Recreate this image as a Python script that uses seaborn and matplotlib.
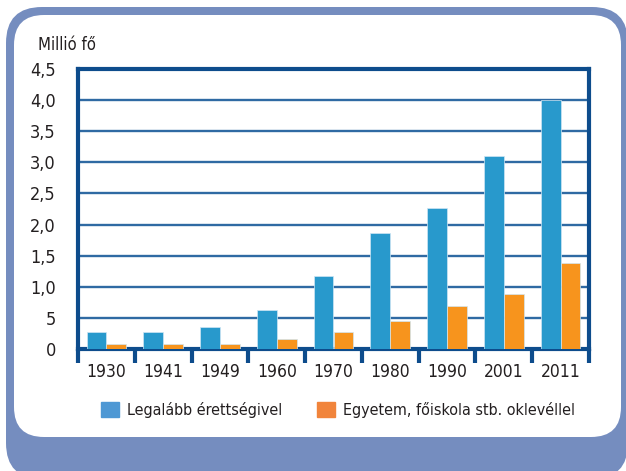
import numpy as np
import pandas as pd
import matplotlib
matplotlib.use("Agg")
import matplotlib.pyplot as plt
import matplotlib.patches as mpatches
import seaborn as sns

# data (millions of people)
years = ["1930", "1941", "1949", "1960", "1970", "1980", "1990", "2001", "2011"]
erettsegi = [0.28, 0.27, 0.36, 0.62, 1.17, 1.86, 2.27, 3.10, 4.00]
diploma = [0.08, 0.08, 0.08, 0.16, 0.27, 0.45, 0.69, 0.89, 1.38]
series_names = ["Legalább érettségivel", "Egyetem, főiskola stb. oklevéllel"]
y_ticks = [0, 0.5, 1.0, 1.5, 2.0, 2.5, 3.0, 3.5, 4.0, 4.5]
y_tick_labels = ["0", "5", "1,0", "1,5", "2,0", "2,5", "3,0", "3,5", "4,0", "4,5"]

BAR_COLORS = ["#2899cc", "#f7941d"]
LEGEND_COLORS = ["#4e98d4", "#f1843b"]
FRAME = "#0d4c8c"
GRID = "#2f6aa3"
BORDER = "#758dbf"
TEXT = "#231f20"

df = pd.DataFrame({
    "year": years * 2,
    "value": erettsegi + diploma,
    "series": [series_names[0]] * len(years) + [series_names[1]] * len(years),
})

sns.set_theme(style="white")
plt.rcParams["font.family"] = ["DejaVu Sans"]
plt.rcParams["font.stretch"] = "condensed"
plt.rcParams["text.color"] = TEXT

W, H = 626, 471
fig = plt.figure(figsize=(W / 100, H / 100), dpi=100)

# rounded frame background, in pixel units
bg = fig.add_axes([0, 0, 1, 1], zorder=0)
bg.set_xlim(0, W)
bg.set_ylim(H, 0)
bg.axis("off")
bg.add_patch(mpatches.FancyBboxPatch((6, 7), 622, 472,
                                     boxstyle="round,pad=0,rounding_size=36",
                                     fc=BORDER, ec="none"))
bg.add_patch(mpatches.FancyBboxPatch((14, 15), 607, 422,
                                     boxstyle="round,pad=0,rounding_size=30",
                                     fc="white", ec="none"))

ax = fig.add_axes([78 / W, 1 - 349 / H, (589 - 78) / W, (349 - 69) / H], zorder=1)
sns.barplot(data=df, x="year", y="value", hue="series", palette=BAR_COLORS,
            saturation=1, width=0.7, ax=ax, legend=False,
            edgecolor="#cfe6f4", linewidth=0.5, zorder=3)

ax.set_ylim(0, 4.5)
ax.set_xlim(-0.5, len(years) - 0.5)
ax.set_yticks(y_ticks)
ax.set_yticklabels(y_tick_labels, fontsize=13)
ax.yaxis.grid(True, color=GRID, linewidth=1.7, zorder=0)
ax.set_axisbelow(True)
ax.set_xlabel("")
ax.set_ylabel("")
ax.tick_params(axis="y", length=0, pad=16)
ax.tick_params(axis="x", which="major", length=0, pad=10, labelsize=12.5)
ax.set_xticks(list(np.arange(len(years)) - 0.5) + [len(years) - 0.5], minor=True)
ax.tick_params(axis="x", which="minor", length=10, width=3, color=FRAME, direction="out")
ax.tick_params(axis="x", which="both", bottom=True)
for side in ["left", "top", "right", "bottom"]:
    ax.spines[side].set_color(FRAME)
    ax.spines[side].set_linewidth(3)
    ax.spines[side].set_visible(True)
for lbl in ax.get_xticklabels() + ax.get_yticklabels():
    lbl.set_color(TEXT)

fig.text(38 / W, 1 - 45 / H, "Millió fő", fontsize=12, ha="left", va="center")

handles = [mpatches.Patch(color=c, label=n) for c, n in zip(LEGEND_COLORS, series_names)]
fig.legend(handles=handles, loc="center", bbox_to_anchor=(338 / W, 1 - 410 / H),
           ncol=2, frameon=False, fontsize=11.5, handlelength=1.1, handleheight=1.1,
           handletextpad=0.5, columnspacing=2.2)

fig.savefig("out.png", dpi=100)
